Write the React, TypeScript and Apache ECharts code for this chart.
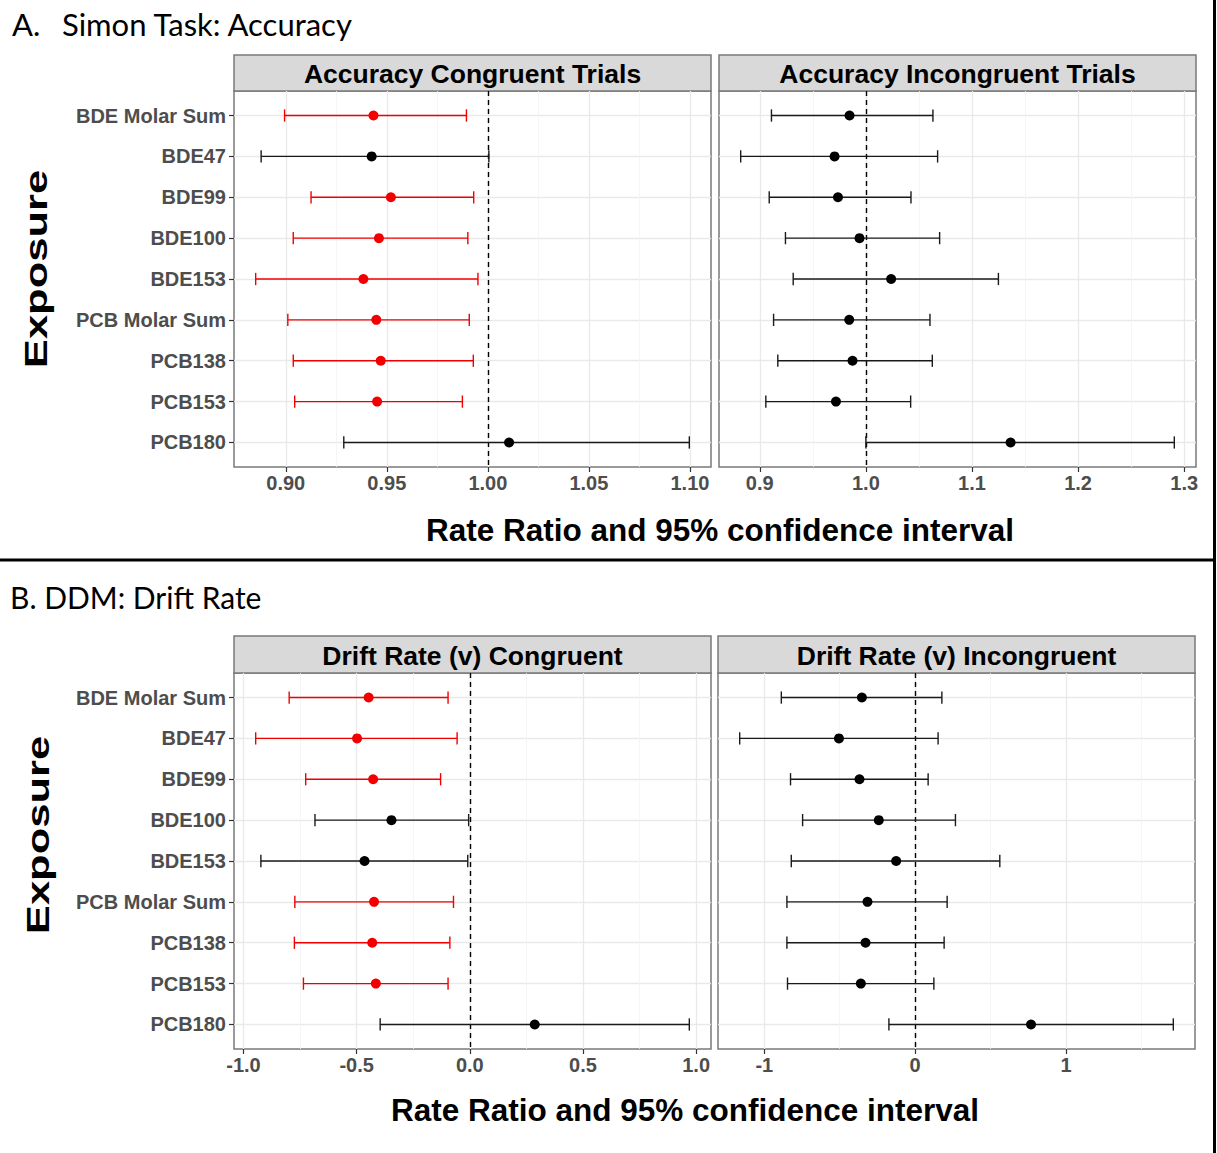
import React, { useEffect, useRef } from "react";
import * as echarts from "echarts";

// ---------- data ----------
const categories = [
  "BDE Molar Sum",
  "BDE47",
  "BDE99",
  "BDE100",
  "BDE153",
  "PCB Molar Sum",
  "PCB138",
  "PCB153",
  "PCB180",
];

// A. Accuracy Congruent Trials
const accCongEst = [0.9434, 0.9425, 0.952, 0.9461, 0.9384, 0.9448, 0.947, 0.9452, 1.0105];
const accCongLow = [0.8994, 0.8878, 0.9125, 0.9037, 0.8851, 0.901, 0.9037, 0.9044, 0.9287];
const accCongHigh = [0.9894, 1.0005, 0.993, 0.9901, 0.9951, 0.9908, 0.9928, 0.9874, 1.0997];
const accCongSig = [1, 0, 1, 1, 1, 1, 1, 1, 0];
const accCongTicks = [0.9, 0.95, 1.0, 1.05, 1.1];
const accCongMinor = [0.925, 0.975, 1.025, 1.075];

// A. Accuracy Incongruent Trials
const accIncEst = [0.9846, 0.9705, 0.9737, 0.994, 1.0238, 0.9843, 0.9874, 0.9718, 1.1364];
const accIncLow = [0.911, 0.882, 0.9089, 0.9242, 0.9315, 0.913, 0.917, 0.9057, 1.0];
const accIncHigh = [1.0632, 1.0676, 1.0425, 1.0695, 1.1249, 1.0604, 1.0626, 1.0422, 1.2907];
const accIncSig = [0, 0, 0, 0, 0, 0, 0, 0, 0];
const accIncTicks = [0.9, 1.0, 1.1, 1.2, 1.3];
const accIncMinor = [0.95, 1.05, 1.15, 1.25];

// B. Drift Rate (v) Congruent
const driftCongEst = [-0.447, -0.498, -0.427, -0.346, -0.465, -0.423, -0.431, -0.415, 0.287];
const driftCongLow = [-0.798, -0.946, -0.725, -0.684, -0.923, -0.773, -0.775, -0.735, -0.396];
const driftCongHigh = [-0.096, -0.056, -0.129, -0.005, -0.009, -0.072, -0.088, -0.096, 0.97];
const driftCongSig = [1, 1, 1, 0, 0, 1, 1, 1, 0];
const driftCongTicks = [-1.0, -0.5, 0.0, 0.5, 1.0];
const driftCongMinor = [-0.75, -0.25, 0.25, 0.75];

// B. Drift Rate (v) Incongruent
const driftIncEst = [-0.353, -0.505, -0.369, -0.241, -0.126, -0.316, -0.329, -0.36, 0.768];
const driftIncLow = [-0.887, -1.163, -0.826, -0.746, -0.821, -0.85, -0.85, -0.846, -0.174];
const driftIncHigh = [0.177, 0.152, 0.086, 0.267, 0.561, 0.212, 0.192, 0.124, 1.711];
const driftIncSig = [0, 0, 0, 0, 0, 0, 0, 0, 0];
const driftIncTicks = [-1, 0, 1];
const driftIncMinor = [-0.5, 0.5, 1.5];

const refLineA = 1;
const refLineB = 0;

// ---------- styles ----------
const RED = "#f20000";
const BLACK = "#000000";
const AX_FONT = '"Liberation Sans", Arial, sans-serif';
const TITLE_FONT = 'Lato, "Open Sans", sans-serif';
const CAP = 0.15;

type Panel = {
  est: number[];
  low: number[];
  high: number[];
  sig: number[];
  ticks: number[];
  minor: number[];
  decimals: number;
  ref: number;
  grid: { left: number; top: number; width: number; height: number };
  leftPanel: boolean;
};

const panels: Panel[] = [
  { est: accCongEst, low: accCongLow, high: accCongHigh, sig: accCongSig, ticks: accCongTicks, minor: accCongMinor, decimals: 2, ref: refLineA, grid: { left: 234, top: 91, width: 477, height: 376 }, leftPanel: true },
  { est: accIncEst, low: accIncLow, high: accIncHigh, sig: accIncSig, ticks: accIncTicks, minor: accIncMinor, decimals: 1, ref: refLineA, grid: { left: 719, top: 91, width: 477, height: 376 }, leftPanel: false },
  { est: driftCongEst, low: driftCongLow, high: driftCongHigh, sig: driftCongSig, ticks: driftCongTicks, minor: driftCongMinor, decimals: 1, ref: refLineB, grid: { left: 234, top: 673, width: 477, height: 376 }, leftPanel: true },
  { est: driftIncEst, low: driftIncLow, high: driftIncHigh, sig: driftIncSig, ticks: driftIncTicks, minor: driftIncMinor, decimals: 0, ref: refLineB, grid: { left: 718, top: 673, width: 477, height: 376 }, leftPanel: false },
];

const stripTitles = [
  "Accuracy Congruent Trials",
  "Accuracy Incongruent Trials",
  "Drift Rate (v) Congruent",
  "Drift Rate (v) Incongruent",
];

function range(p: Panel) {
  const lo = Math.min(...p.low);
  const hi = Math.max(...p.high);
  const pad = (hi - lo) * 0.05;
  return [lo - pad, hi + pad];
}

function txt(text: string, x: number, y: number, font: string, align = "center", extra: any = {}) {
  return {
    type: "text",
    x,
    y,
    silent: true,
    ...extra,
    style: {
      text,
      font,
      fill: "#000",
      align,
      verticalAlign: "middle",
      textAlign: align,
      textVerticalAlign: "middle",
    },
  };
}

function buildOption() {
  const grids: any[] = [];
  const xAxes: any[] = [];
  const yAxes: any[] = [];
  const series: any[] = [];
  const catIdx = categories.map((_, i) => i);

  panels.forEach((p, i) => {
    const [mn, mx] = range(p);
    grids.push({
      ...p.grid,
      show: true,
      borderColor: "#7a7a7a",
      borderWidth: 1.5,
      backgroundColor: "#fff",
      containLabel: false,
    });
    // major x axis
    xAxes.push({
      type: "value",
      gridIndex: i,
      min: mn,
      max: mx,
      position: "bottom",
      axisLine: { show: false, onZero: false },
      axisTick: { show: true, customValues: p.ticks, length: 5, lineStyle: { color: "#333", width: 1.2 } },
      axisLabel: {
        show: true,
        customValues: p.ticks,
        formatter: (v: number) => v.toFixed(p.decimals),
        fontFamily: AX_FONT,
        fontWeight: "bold",
        fontSize: 20,
        color: "#4d4d4d",
        margin: 6,
      },
      splitLine: { show: true, lineStyle: { color: "#e9e9e9", width: 1.3 } },
    });
    // minor x axis (grid lines only)
    xAxes.push({
      type: "value",
      gridIndex: i,
      min: mn,
      max: mx,
      position: "top",
      axisLine: { show: false, onZero: false },
      axisTick: { show: false, customValues: p.minor },
      axisLabel: { show: false },
      splitLine: { show: true, lineStyle: { color: "#f3f3f3", width: 0.8 } },
    });
    yAxes.push({
      type: "value",
      gridIndex: i,
      min: -0.6,
      max: categories.length - 1 + 0.6,
      inverse: true,
      position: "left",
      axisLine: { show: false, onZero: false },
      axisTick: { show: p.leftPanel, customValues: catIdx, length: 5, lineStyle: { color: "#333", width: 1.2 } },
      axisLabel: {
        show: p.leftPanel,
        customValues: catIdx,
        formatter: (v: number) => categories[Math.round(v)],
        fontFamily: AX_FONT,
        fontWeight: "bold",
        fontSize: 20,
        color: "#4d4d4d",
        margin: 8,
      },
      splitLine: { show: true, lineStyle: { color: "#e9e9e9", width: 1.3 } },
    });

    series.push({
      type: "custom",
      xAxisIndex: i * 2,
      yAxisIndex: i,
      z: 3,
      silent: true,
      encode: { x: [1, 2], y: 0 },
      data: categories.map((_, k) => [k, p.low[k], p.high[k], p.sig[k]]),
      renderItem: (params: any, api: any) => {
        const k = api.value(0);
        const lo = api.value(1);
        const hi = api.value(2);
        const sig = api.value(3);
        const a = api.coord([lo, k]);
        const b = api.coord([hi, k]);
        const t = api.coord([lo, k - CAP]);
        const u = api.coord([lo, k + CAP]);
        const half = Math.abs(u[1] - t[1]) / 2;
        const style = { stroke: sig ? RED : "#1a1a1a", lineWidth: 1.4 };
        return {
          type: "group",
          children: [
            { type: "line", shape: { x1: a[0], y1: a[1], x2: b[0], y2: b[1] }, style },
            { type: "line", shape: { x1: a[0], y1: a[1] - half, x2: a[0], y2: a[1] + half }, style },
            { type: "line", shape: { x1: b[0], y1: b[1] - half, x2: b[0], y2: b[1] + half }, style },
          ],
        };
      },
    });
    series.push({
      type: "scatter",
      xAxisIndex: i * 2,
      yAxisIndex: i,
      z: 4,
      silent: true,
      symbol: "circle",
      symbolSize: 10,
      data: p.est.map((e, k) => ({ value: [e, k], itemStyle: { color: p.sig[k] ? RED : BLACK, opacity: 1 } })),
      markLine: {
        silent: true,
        symbol: "none",
        label: { show: false },
        lineStyle: { type: [5, 4], color: "#000", width: 1.4 },
        data: [{ xAxis: p.ref }],
        z: 2,
      },
    });
  });

  const graphics: any[] = [];
  panels.forEach((p, i) => {
    const g = p.grid;
    const top = i < 2 ? 55 : 636;
    graphics.push({
      type: "rect",
      silent: true,
      shape: { x: g.left, y: top, width: g.width, height: g.top - top },
      style: { fill: "#d9d9d9", stroke: "#7a7a7a", lineWidth: 1.5 },
    });
    graphics.push(txt(stripTitles[i], g.left + g.width / 2, (top + g.top) / 2 + 1, `bold 26.5px ${AX_FONT}`));
  });

  graphics.push(txt("A.", 12, 24, `31px ${TITLE_FONT}`, "left"));
  graphics.push(txt("Simon Task: Accuracy", 62, 24, `31px ${TITLE_FONT}`, "left"));
  graphics.push(txt("B. DDM: Drift Rate", 10, 597, `30px ${TITLE_FONT}`, "left"));

  graphics.push(txt("Rate Ratio and 95% confidence interval", 720, 530, `bold 31.5px ${AX_FONT}`));
  graphics.push(txt("Rate Ratio and 95% confidence interval", 685, 1110, `bold 31.5px ${AX_FONT}`));

  graphics.push(txt("Exposure", 36, 269, `bold 32px ${AX_FONT}`, "center", { rotation: Math.PI / 2, scaleX: 1.36 }));
  graphics.push(txt("Exposure", 38, 835, `bold 32px ${AX_FONT}`, "center", { rotation: Math.PI / 2, scaleX: 1.36 }));

  graphics.push({ type: "line", silent: true, shape: { x1: 0, y1: 560, x2: 1214, y2: 560 }, style: { stroke: "#000", lineWidth: 3 } });
  graphics.push({ type: "line", silent: true, shape: { x1: 1214.5, y1: 0, x2: 1214.5, y2: 1153 }, style: { stroke: "#000", lineWidth: 3 } });

  return {
    animation: false,
    backgroundColor: "#ffffff",
    grid: grids,
    xAxis: xAxes,
    yAxis: yAxes,
    series,
    graphic: { elements: graphics },
  };
}

export default function App() {
  const ref = useRef<HTMLDivElement>(null);
  useEffect(() => {
    if (!ref.current) return;
    const chart = echarts.init(ref.current, null, { renderer: "svg" });
    chart.setOption(buildOption() as any);
    return () => chart.dispose();
  }, []);
  return (
    <div
      ref={ref}
      style={{ position: "absolute", left: 0, top: 0, width: 1217, height: 1153, background: "#fff" }}
    />
  );
}
